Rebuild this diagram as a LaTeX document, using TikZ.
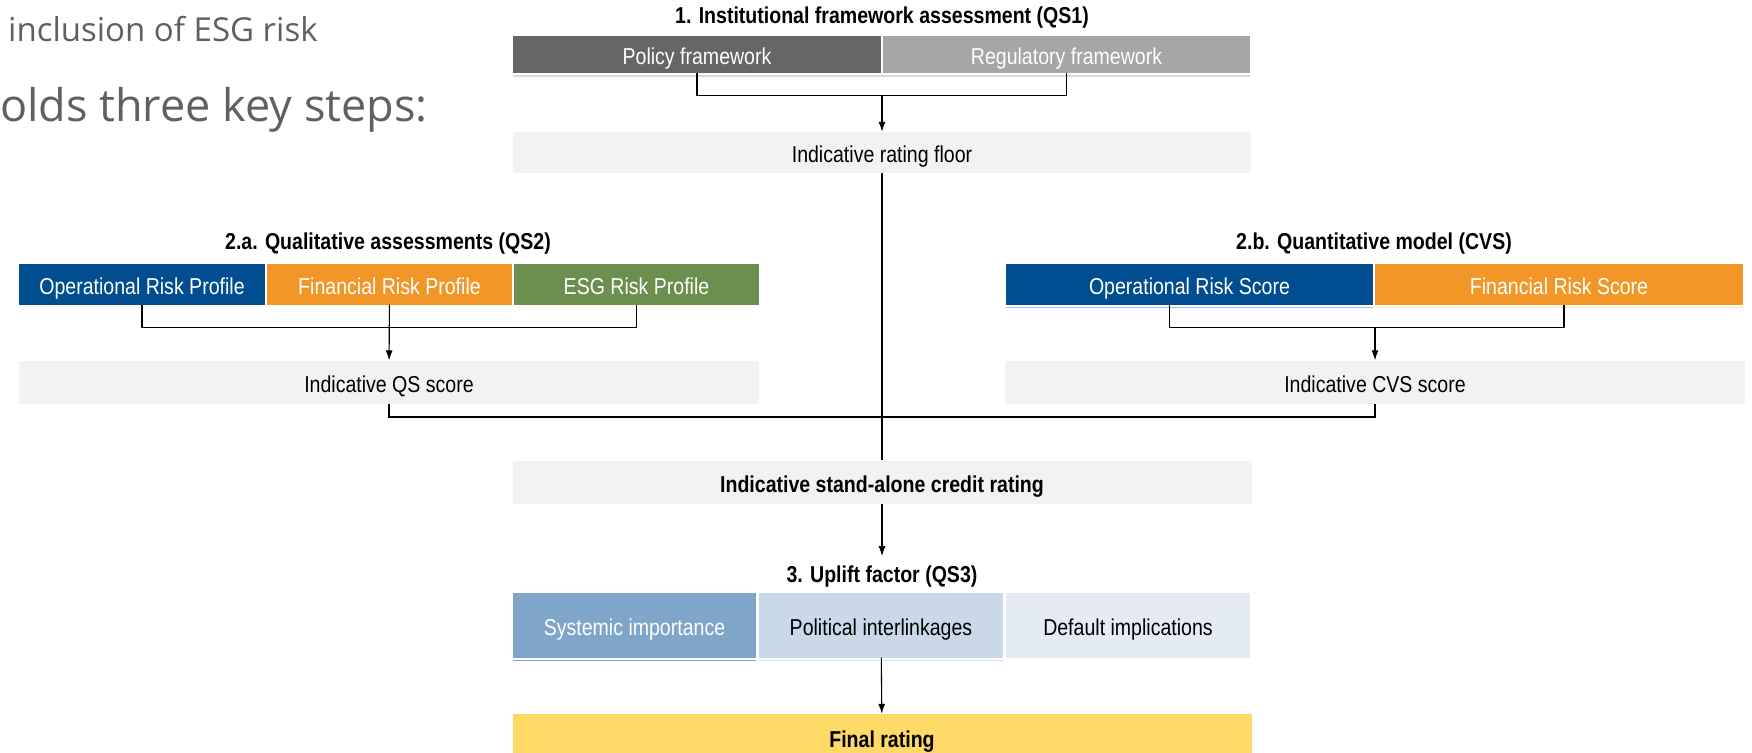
\documentclass[tikz,border=0pt]{standalone}
\usepackage{fontspec}
\setmainfont[FakeStretch=0.85]{Liberation Sans}
\newfontfamily\slidefont{Open Sans}
\usepackage{xcolor}
\usepackage{tikz}
\usetikzlibrary{arrows.meta, positioning, calc}
\definecolor{frameblue}{RGB}{0,78,143}
\definecolor{frameorange}{RGB}{243,150,40}
\definecolor{framegreen}{RGB}{107,143,78}
\definecolor{policygray}{RGB}{102,102,102}
\definecolor{regulgray}{RGB}{166,166,166}
\definecolor{panelgray}{RGB}{242,242,242}
\definecolor{upliftdark}{RGB}{127,166,201}
\definecolor{upliftmid}{RGB}{201,217,234}
\definecolor{upliftlight}{RGB}{228,235,244}
\definecolor{finalyellow}{RGB}{255,217,102}
\definecolor{slidegray}{RGB}{96,96,96}
\newcommand{\boxfont}{\fontsize{23}{27}\selectfont}

\begin{document}
\begin{tikzpicture}[
    x=1pt, y=-1pt,
    box/.style={rectangle, inner sep=0pt, minimum height=41pt, text height=20pt, text depth=0pt, align=center, font=\boxfont},
    panel/.style={box, fill=panelgray, text=black},
    heading/.style={inner sep=0pt, font=\boxfont\bfseries},
    arrow/.style={-{Latex[length=10pt, width=7pt]}, line width=1.1pt},
    link/.style={line width=1.1pt}
]
\useasboundingbox (0,0) rectangle (1752,752);

% slide text cut off at the left
\node[anchor=west, inner sep=0pt, font=\slidefont\fontsize{33}{37}\selectfont, text=slidegray] (slideone) at (8,29) {inclusion of ESG risk};
\node[anchor=west, inner sep=0pt, font=\slidefont\fontsize{45}{50}\selectfont, text=slidegray] (slidetwo) at (0,110) {olds three key steps:};

% 1. institutional framework
\node[heading] (qsonettl) at (882,18) {1. Institutional framework assessment (QS1)};
\node[box, fill=policygray, text=white, minimum width=368pt, minimum height=37pt] (policy) at (697,54.5) {Policy framework};
\node[box, fill=regulgray, text=white, minimum width=367pt, minimum height=37pt] (regul) at (1066.5,54.5) {Regulatory framework};
\node[panel, minimum width=738pt] (floor) at (882,152.5) {Indicative rating floor};

% 2.a qualitative
\node[heading] (qstwottl) at (388,244) {2.a. Qualitative assessments (QS2)};
\node[box, fill=frameblue, text=white, minimum width=246pt] (opprof) at (142,284) {Operational Risk Profile};
\node[box, fill=frameorange, text=white, minimum width=245pt] (finprof) at (389.5,284) {Financial Risk Profile};
\node[box, fill=framegreen, text=white, minimum width=245pt] (esgprof) at (636.5,284) {ESG Risk Profile};
\node[panel, minimum width=740pt, minimum height=43pt] (qsscore) at (389,382) {Indicative QS score};

% 2.b quantitative
\node[heading] (cvsttl) at (1374,244) {2.b. Quantitative model (CVS)};
\node[box, fill=frameblue, text=white, minimum width=367pt] (opscore) at (1189.5,284) {Operational Risk Score};
\node[box, fill=frameorange, text=white, minimum width=368pt] (finscore) at (1559,284) {Financial Risk Score};
\node[panel, minimum width=740pt, minimum height=43pt] (cvsscore) at (1375,382) {Indicative CVS score};

% stand-alone and uplift
\node[panel, minimum width=739pt, minimum height=43pt, font=\boxfont\bfseries] (standalone) at (882,482) {Indicative stand-alone credit rating};
\node[heading] (upliftttl) at (882,577) {3. Uplift factor (QS3)};
\node[box, fill=upliftdark, text=white, minimum width=243pt, minimum height=65pt] (systemic) at (634.5,625) {Systemic importance};
\node[box, fill=upliftmid, text=black, minimum width=244pt, minimum height=65pt] (political) at (881,625) {Political interlinkages};
\node[box, fill=upliftlight, text=black, minimum width=244pt, minimum height=65pt] (default) at (1128,625) {Default implications};
\node[box, fill=finalyellow, text=black, minimum width=739pt, minimum height=46pt, font=\boxfont\bfseries] (final) at (882,737) {Final rating};

% thin rules under the boxes
\draw[black!15, line width=1.5pt] ([yshift=-3pt]policy.south west) -- ([yshift=-3pt]regul.south east);
\draw[upliftdark!70, line width=1.5pt] ([yshift=-3pt]opscore.south west) -- ([yshift=-3pt]opscore.south east);
\draw[frameorange!30, line width=1.5pt] ([yshift=-3pt]finscore.south west) -- ([yshift=-3pt]finscore.south east);
\draw[upliftdark, line width=1.5pt] ([yshift=-3pt]systemic.south west) -- ([yshift=-3pt]systemic.south east);
\draw[upliftmid!80, line width=1.5pt] ([yshift=-3pt]political.south west) -- ([yshift=-3pt]political.south east);

% connectors
\coordinate (qsonejoin) at (882,95);
\coordinate (cvsjoin) at (1375,327);
\draw[link] (policy.south) -- ++(0,22) -| (regul.south);
\draw[arrow] (qsonejoin) -- (floor);
\draw[link] (opprof.south) -- ++(0,23) -| (esgprof.south);
\draw[arrow] (finprof) -- (qsscore);
\draw[link] ([xshift=-20pt]opscore.south) -- ++(0,23) -| ([xshift=5pt]finscore.south);
\draw[arrow] (cvsjoin) -- (cvsscore);
\draw[link] (floor) -- (standalone);
\draw[link] (qsscore) -- ++(0,35) -| (cvsscore);
\draw[arrow] (standalone) -- ([yshift=10pt]upliftttl.north);
\draw[arrow] (political) -- (final);

\end{tikzpicture}
\end{document}
